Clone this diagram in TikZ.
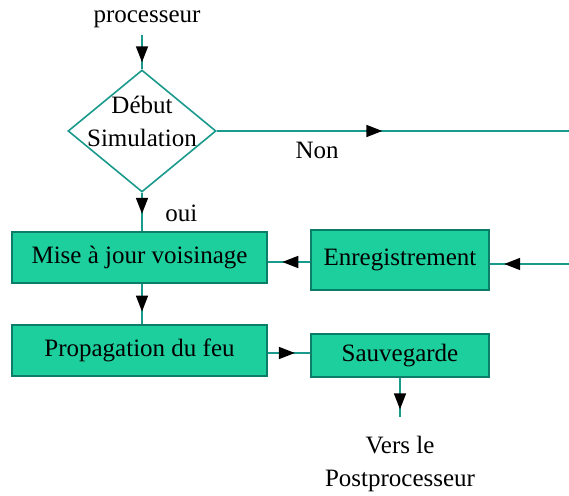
\documentclass[tikz,border=0pt]{standalone}
\usepackage{fontspec}
\setmainfont{Liberation Serif}
\usetikzlibrary{shapes.geometric, arrows.meta, positioning, calc, decorations.markings}
\definecolor{vert}{HTML}{1ECF9E}
\definecolor{bord}{HTML}{0B7D68}
\definecolor{trait}{HTML}{1A9A8C}

\begin{document}
\begin{tikzpicture}[x=0.5pt, y=-0.5pt,
  etape/.style={draw=bord, line width=1pt, rectangle, fill=vert, inner sep=2pt, font=\fontsize{12.5}{14}\selectfont},
  test/.style={draw=trait, line width=0.8pt, diamond, fill=white, inner sep=0pt, minimum width=74pt, minimum height=61pt},
  texte/.style={align=center, font=\fontsize{12.5}{16.5}\selectfont},
  fleche/.style={draw=trait, line width=0.8pt, postaction={decorate},
    decoration={markings, mark=at position #1 with {\arrow{Triangle[length=8pt, width=6pt, color=black]}}}}
]
\useasboundingbox (0,0) rectangle (569,496);

% Noeuds
\node[texte] (proc) at (147,19) {processeur};
\node[test, label={[texte, yshift=5pt]center:Début\\Simulation}] (sim) at (142,131) {};
\node[etape, minimum width=127.5pt, minimum height=25.5pt] (maj) at (139.5,257.5) {Mise à jour voisinage};
\node[etape, minimum width=89pt, minimum height=30pt] (enr) at (400,260) {Enregistrement};
\node[etape, minimum width=127.5pt, minimum height=25.5pt] (prop) at (139.5,350.5) {Propagation du feu};
\node[etape, minimum width=89pt, minimum height=21.5pt] (sauv) at (400,355.5) {Sauvegarde};
\node[texte] (vers) at (400,463.5) {Vers le\\Postprocesseur};
\coordinate (nonfin) at (569,131);
\coordinate (retour) at (569,264);

% Liaisons
\draw[fleche=0.8] (proc.south -| sim.north) -- (sim.north);
\draw[fleche=0.47] (sim.east) -- node[texte, pos=0.285, below=2pt] {Non} (nonfin);
\draw[fleche=0.55] (sim.south) -- node[texte, pos=0.53, right=8pt] {oui} (sim.south |- maj.north);
\draw[fleche=0.82] (retour) -- (retour -| enr.east);
\draw[fleche=0.66] (enr.west |- 0,262) -- (maj.east |- 0,262);
\draw[fleche=0.69] (maj.south -| 142,0) -- (prop.north -| 142,0);
\draw[fleche=0.64] (prop.east |- 0,353) -- (sauv.west |- 0,353);
\draw[fleche=0.62, shorten >=6pt] (sauv.south) -- (vers.north);

\end{tikzpicture}
\end{document}
